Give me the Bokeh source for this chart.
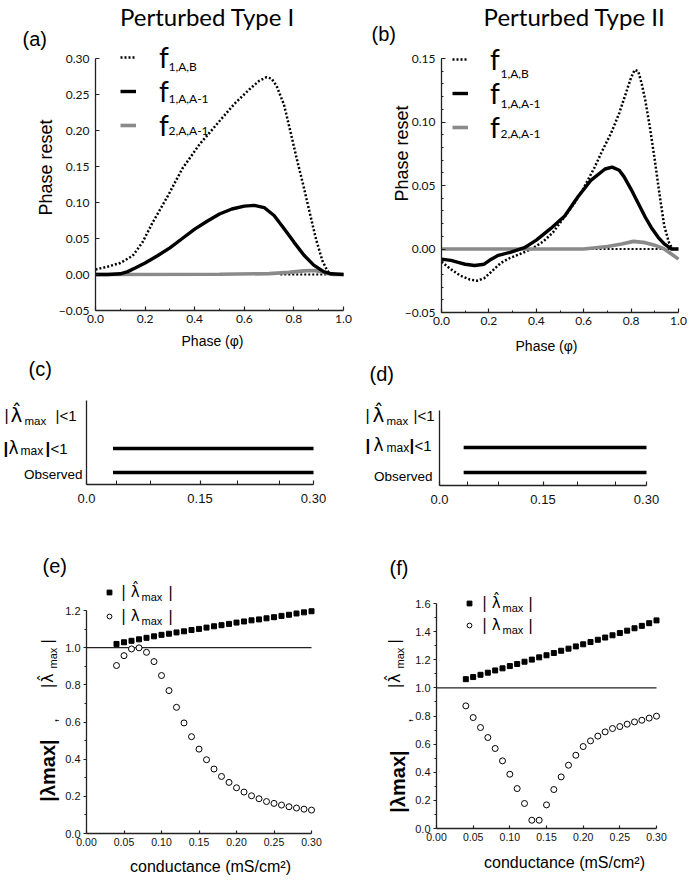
import math
from bokeh.plotting import figure
from bokeh.models import (Label, Legend, LegendItem, FixedTicker, Range1d,
                          NumeralTickFormatter, LinearAxis)
from bokeh.layouts import column, row
from bokeh.embed import file_html
from bokeh.resources import INLINE

# ---------------------------------------------------------------- data ----
# (a) Perturbed Type I : phase resetting curves
A_F1AB_X = [0.00, 0.05, 0.10, 0.15, 0.19, 0.23, 0.29, 0.35, 0.42, 0.49, 0.56,
            0.62, 0.66, 0.69, 0.71, 0.73, 0.76, 0.785, 0.81, 0.84, 0.865, 0.89,
            0.915, 0.935, 0.95, 1.00]
A_F1AB_Y = [0.007, 0.011, 0.016, 0.026, 0.045, 0.072, 0.108, 0.147, 0.181, 0.209,
            0.237, 0.257, 0.269, 0.274, 0.272, 0.262, 0.236, 0.200, 0.163, 0.121,
            0.084, 0.048, 0.019, 0.005, 0.000, 0.000]
A_F1AA_X = [0.00, 0.05, 0.10, 0.13, 0.16, 0.20, 0.25, 0.30, 0.35, 0.40, 0.45, 0.50,
            0.55, 0.60, 0.64, 0.68, 0.72, 0.76, 0.80, 0.84, 0.88, 0.92, 0.95, 1.00]
A_F1AA_Y = [0.000, 0.000, 0.001, 0.004, 0.009, 0.016, 0.026, 0.037, 0.050, 0.063,
            0.074, 0.084, 0.091, 0.095, 0.096, 0.093, 0.082, 0.064, 0.045, 0.027,
            0.013, 0.004, 0.001, 0.000]
A_F2AA_X = [0.00, 0.50, 0.70, 0.78, 0.84, 0.88, 0.91, 0.94, 0.96, 1.00]
A_F2AA_Y = [0.000, 0.0003, 0.0012, 0.003, 0.005, 0.0055, 0.004, 0.001, 0.000, 0.000]
A_ZERO_X = [0.745, 0.93]
A_ZERO_Y = [0.0, 0.0]

# (b) Perturbed Type II : phase resetting curves
B_F1AB_X = [0.00, 0.04, 0.08, 0.12, 0.15, 0.18, 0.21, 0.25, 0.29, 0.33, 0.38, 0.43,
            0.47, 0.51, 0.56, 0.60, 0.645, 0.68, 0.715, 0.75, 0.775, 0.80, 0.815,
            0.83, 0.845, 0.86, 0.88, 0.90, 0.92, 0.94, 0.96, 0.975, 1.00]
B_F1AB_Y = [-0.010, -0.016, -0.021, -0.024, -0.025, -0.023, -0.018, -0.011, -0.007,
            -0.004, 0.000, 0.006, 0.013, 0.023, 0.036, 0.048, 0.064, 0.078, 0.091,
            0.107, 0.121, 0.135, 0.141, 0.140, 0.130, 0.117, 0.095, 0.070, 0.043,
            0.018, 0.005, 0.000, 0.000]
B_F1AA_X = [0.00, 0.04, 0.07, 0.10, 0.14, 0.18, 0.21, 0.24, 0.29, 0.35, 0.40, 0.46,
            0.52, 0.575, 0.63, 0.69, 0.72, 0.75, 0.77, 0.80, 0.83, 0.86, 0.885,
            0.915, 0.94, 0.97, 1.00]
B_F1AA_Y = [-0.008, -0.009, -0.0105, -0.012, -0.013, -0.012, -0.008, -0.005, -0.0026,
            0.001, 0.007, 0.016, 0.026, 0.041, 0.054, 0.063, 0.0645, 0.062, 0.057,
            0.047, 0.036, 0.025, 0.017, 0.009, 0.004, 0.000, 0.000]
B_F2AA_X = [0.00, 0.60, 0.70, 0.76, 0.81, 0.86, 0.90, 0.94, 0.97, 1.00]
B_F2AA_Y = [0.000, 0.000, 0.002, 0.004, 0.006, 0.005, 0.003, 0.000, -0.004, -0.008]
B_ZERO_X = [0.38, 0.96]
B_ZERO_Y = [0.0, 0.0]

# (c), (d) conductance intervals : row 1 = |lambda_max|<1, row 0 = Observed
C_ROW = [1, 0]
C_START = [0.035, 0.035]
C_END = [0.30, 0.30]
D_ROW = [1, 0]
D_START = [0.035, 0.035]
D_END = [0.30, 0.30]

# (e), (f) eigenvalue magnitudes vs conductance
G = [0.04, 0.05, 0.06, 0.07, 0.08, 0.09, 0.10, 0.11, 0.12, 0.13, 0.14, 0.15, 0.16,
     0.17, 0.18, 0.19, 0.20, 0.21, 0.22, 0.23, 0.24, 0.25, 0.26, 0.27, 0.28, 0.29, 0.30]
E_HAT = [1.020, 1.029, 1.037, 1.045, 1.053, 1.061, 1.069, 1.075, 1.082, 1.088, 1.095,
         1.101, 1.108, 1.115, 1.121, 1.128, 1.135, 1.141, 1.147, 1.152, 1.158, 1.164,
         1.171, 1.177, 1.184, 1.190, 1.196]
E_LAM = [0.904, 0.957, 0.993, 0.999, 0.975, 0.925, 0.850, 0.769, 0.679, 0.595, 0.521,
         0.454, 0.397, 0.347, 0.307, 0.275, 0.246, 0.223, 0.203, 0.187, 0.172, 0.162,
         0.153, 0.144, 0.137, 0.131, 0.126]
F_HAT = [1.062, 1.077, 1.093, 1.108, 1.124, 1.139, 1.155, 1.170, 1.186, 1.201, 1.217,
         1.232, 1.248, 1.264, 1.279, 1.295, 1.310, 1.326, 1.342, 1.358, 1.374, 1.390,
         1.407, 1.424, 1.441, 1.460, 1.480]
F_LAM = [0.872, 0.789, 0.718, 0.647, 0.569, 0.481, 0.386, 0.284, 0.178, 0.059, 0.059,
         0.168, 0.277, 0.367, 0.450, 0.521, 0.583, 0.623, 0.657, 0.687, 0.711, 0.725,
         0.742, 0.758, 0.770, 0.785, 0.799]
UNITY_X = [0.0, 0.30]
UNITY_Y = [1.0, 1.0]

# ------------------------------------------------------------- helpers ----
SANS = "Liberation Sans"
HUM = "Lato"
GREEK = "DejaVu Sans"
AX = "#222222"
GRAY = "#8a8a8a"
HAT = "\u03bb\u0302"

COL_X = (0, 356)
COL_W = (356, 332)
ROW_Y = (0, 355, 520)
ROW_H = (355, 165, 360)


def mkfig(ox, oy, w, h, xmap, ymap):
    """Whole canvas is the plot frame; xmap/ymap pin two data values to pixels."""
    (px0, v0), (px1, v1) = xmap
    kx = (px1 - px0) / (v1 - v0)
    xs = v0 - (px0 - ox) / kx
    (py0, u0), (py1, u1) = ymap
    ky = (py0 - py1) / (u1 - u0)
    ys = u0 - (oy + h - py0) / ky
    p = figure(width=w, height=h, x_range=Range1d(xs, xs + w / kx),
               y_range=Range1d(ys, ys + h / ky), x_axis_location=None,
               y_axis_location=None, output_backend="svg", toolbar_location=None,
               min_border_left=0, min_border_right=0, min_border_top=0,
               min_border_bottom=0)
    p.outline_line_color = None
    p.grid.visible = False
    return p, (ox, oy, h)


def txt(p, g, X, Y, s, size, font=SANS, align="left", baseline="middle",
        angle=0.0, style="normal"):
    ox, oy, h = g
    p.add_layout(Label(x=X - ox, y=oy + h - Y, x_units="screen", y_units="screen",
                       text=s, text_font=font, text_font_size=f"{size}px",
                       text_align=align, text_baseline=baseline, angle=angle,
                       text_font_style=style, text_color="black"))


def axis(p, side, fixed, bounds, ticker, fmt, font, size, tin, tout, min_in, min_out,
         standoff, overrides=None):
    ax = LinearAxis(fixed_location=fixed, bounds=bounds, ticker=ticker)
    if fmt is not None:
        ax.formatter = NumeralTickFormatter(format=fmt)
    if overrides:
        ax.major_label_overrides = overrides
    ax.axis_line_color = AX
    ax.axis_line_width = 1.3
    ax.major_tick_line_color = AX
    ax.major_tick_line_width = 1.2
    ax.major_tick_in = tin
    ax.major_tick_out = tout
    ax.minor_tick_line_color = AX
    ax.minor_tick_line_width = 1.0
    ax.minor_tick_in = min_in
    ax.minor_tick_out = min_out
    ax.major_label_text_font = font
    ax.major_label_text_font_size = f"{size}px"
    ax.major_label_text_color = "#111111"
    ax.major_label_standoff = standoff
    p.add_layout(ax, side)
    return ax


SUBS = ["1,A,B", "1,A,A-1", "2,A,A-1"]


def prc_panel(col, xmap, ymap, ylim, yticks, yminor, data, leg, title, title_x,
              tag, tag_xy, ylab_xy, xlab_xy, ystand):
    ox, w = COL_X[col], COL_W[col]
    p, g = mkfig(ox, ROW_Y[0], w, ROW_H[0], xmap, ymap)
    (x1, y1), (x2, y2), (x3, y3), (zx, zy) = data
    rd = p.line(x1, y1, line_color="black", line_width=2.5, line_dash="2 2")
    p.line(zx, zy, line_color="black", line_width=2.0, line_dash="2 2")
    rg = p.line(x3, y3, line_color=GRAY, line_width=3.6)
    rb = p.line(x2, y2, line_color="black", line_width=3.4)
    axis(p, "below", ylim[0], (0, 1),
         FixedTicker(ticks=[0.0, 0.2, 0.4, 0.6, 0.8, 1.0],
                     minor_ticks=[0.1, 0.3, 0.5, 0.7, 0.9]),
         "0.0", HUM, 12, 4, 0, 2, 0, 4)
    axis(p, "left", 0.0, ylim, FixedTicker(ticks=yticks, minor_ticks=yminor),
         "0.00", HUM, 12, 4, 0, 2, 0, ystand, {-0.05: "\u22120.05"})
    gx, rows, fx, subx = leg
    rh = rows[1] - rows[0]
    lg = Legend(items=[LegendItem(label="f", renderers=[rd]),
                       LegendItem(label="f", renderers=[rb]),
                       LegendItem(label="f", renderers=[rg])],
                location=(gx - ox, ROW_Y[0] + ROW_H[0] - (rows[2] + rh / 2)),
                glyph_width=16, glyph_height=rh, label_height=rh, spacing=0,
                padding=0, margin=0, label_standoff=fx - gx - 16,
                border_line_color=None, background_fill_alpha=0,
                label_text_font=HUM, label_text_font_size="28px",
                label_text_color="black")
    p.add_layout(lg)
    for ry, s in zip(rows, SUBS):
        txt(p, g, subx, ry + 4, s, 12, HUM)
    txt(p, g, title_x, 16, title, 24, HUM, align="center")
    txt(p, g, tag_xy[0], tag_xy[1], tag, 20, SANS)
    txt(p, g, ylab_xy[0], ylab_xy[1], "Phase reset", 18, SANS, align="center",
        angle=math.pi / 2)
    txt(p, g, xlab_xy[0], xlab_xy[1], "Phase (\u03c6)", 14, SANS, align="center")
    return p


pa = prc_panel(0, ((95, 0.0), (343, 1.0)), ((310, -0.05), (58, 0.30)), (-0.05, 0.30),
               [-0.05, 0.0, 0.05, 0.10, 0.15, 0.20, 0.25, 0.30], [],
               [(A_F1AB_X, A_F1AB_Y), (A_F1AA_X, A_F1AA_Y), (A_F2AA_X, A_F2AA_Y),
                (A_ZERO_X, A_ZERO_Y)],
               (120, [62, 94, 126], 159, 168),
               "Perturbed Type I", 207, "(a)", (22, 38), (45, 167), (212, 340), 6)

pb = prc_panel(1, ((441, 0.0), (678, 1.0)), ((312, -0.05), (58, 0.15)), (-0.05, 0.15),
               [-0.05, 0.0, 0.05, 0.10, 0.15],
               [round(-0.05 + 0.01 * i, 2) for i in range(21)],
               [(B_F1AB_X, B_F1AB_Y), (B_F1AA_X, B_F1AA_Y), (B_F2AA_X, B_F2AA_Y),
                (B_ZERO_X, B_ZERO_Y)],
               (452, [69, 99, 129], 490, 500),
               "Perturbed Type II", 574, "(b)", (371, 33), (401, 153), (546, 345), 6)


def interval_panel(col, xmap, ymap, ylim, rows, starts, ends, tag, tag_xy, lab):
    ox, w = COL_X[col], COL_W[col]
    p, g = mkfig(ox, ROW_Y[1], w, ROW_H[1], xmap, ymap)
    p.segment(x0=starts, y0=rows, x1=ends, y1=rows, line_color="black",
              line_width=3.5)
    axis(p, "below", ylim[0], (0, 0.30),
         FixedTicker(ticks=[0.0, 0.15, 0.30], minor_ticks=[0.04, 0.085, 0.20, 0.255]),
         "0.00", SANS, 13, 4, 0, 4, 0, 9, {0.0: "0.0"})
    axis(p, "left", 0.0, ylim, FixedTicker(ticks=[]), None, SANS, 12, 0, 0, 0, 0, 0)
    txt(p, g, tag_xy[0], tag_xy[1], tag, 20, SANS)
    (hy, hx), (ly, lx), (oy_, ox_) = lab
    # |lambda-hat_max| < 1
    txt(p, g, hx[0], hy, "|", 16, SANS)
    txt(p, g, hx[1], hy - 1, HAT, 20, GREEK)
    txt(p, g, hx[2], hy + 5, "max", 11.5, SANS)
    txt(p, g, hx[3], hy, "|<1", 15, SANS)
    # |lambda_max| < 1
    txt(p, g, lx[0], ly, "|", 17, SANS, style="bold")
    txt(p, g, lx[1], ly - 1, "\u03bb", 17, GREEK)
    txt(p, g, lx[2], ly + 2, "max", 12, SANS)
    txt(p, g, lx[3], ly, "|", 17, SANS, style="bold")
    txt(p, g, lx[3] + 5, ly, "<1", 15, SANS)
    txt(p, g, ox_, oy_, "Observed", 13.5, SANS, align="right")
    return p


pc = interval_panel(0, ((86, 0.0), (313, 0.30)), ((472, 0), (448, 1)), (-0.5, 3.0),
                    C_ROW, C_START, C_END, "(c)", (28, 368),
                    ((415, [4, 10, 24, 55]), (448, [3, 8, 20, 45]), (474, 82)))
pd_ = interval_panel(1, ((439, 0.0), (646, 0.30)), ((472, 0), (447, 1)), (-0.52, 2.48),
                     D_ROW, D_START, D_END, "(d)", (369, 373),
                     ((415, [365, 372, 386, 413]), (445, [365, 373, 386, 409]),
                      (476, 432)))


def lam_panel(col, xmap, ymap, ymax, yticks, yminor, hat, lam, tag, tag_xy, leg,
              ylab, xlab_xy):
    ox, w = COL_X[col], COL_W[col]
    p, g = mkfig(ox, ROW_Y[2], w, ROW_H[2], xmap, ymap)
    p.line(UNITY_X, UNITY_Y, line_color=AX, line_width=1.2)
    rh = p.scatter(G, hat, marker="square", size=5, fill_color="black",
                   line_color="black")
    rl = p.scatter(G, lam, marker="circle", size=6, fill_color="white",
                   line_color="black", line_width=1)
    axis(p, "below", 0.0, (0, 0.30),
         FixedTicker(ticks=[0.0, 0.05, 0.10, 0.15, 0.20, 0.25, 0.30]),
         "0.00", SANS, 10.5, 3, 0, 0, 0, 4)
    axis(p, "left", 0.0, (0, ymax), FixedTicker(ticks=yticks, minor_ticks=yminor),
         "0.0", SANS, 11, 0, 3, 0, 2, 3)
    txt(p, g, tag_xy[0], tag_xy[1], tag, 20, SANS)
    gx, r1, r2, lx, mx, bx = leg
    rhh = r2 - r1
    lg = Legend(items=[LegendItem(label="| " + HAT, renderers=[rh]),
                       LegendItem(label="| \u03bb", renderers=[rl])],
                location=(gx - 6 - ox, ROW_Y[2] + ROW_H[2] - (r2 + rhh / 2)),
                glyph_width=12, glyph_height=rhh, label_height=rhh, spacing=0,
                padding=0, margin=0, label_standoff=lx - gx - 6,
                border_line_color=None, background_fill_alpha=0,
                label_text_font=GREEK, label_text_font_size="15px",
                label_text_color="black")
    p.add_layout(lg)
    for ry in (r1, r2):
        txt(p, g, mx, ry + 4, "max", 11, SANS)
        txt(p, g, bx, ry, "|", 16, SANS)
    # composite y-axis title: |lambda_max| , |lambda-hat_max|
    (bx0, by0), (cx, cy), (sx, sy) = ylab
    txt(p, g, bx0, by0, "|\u03bbmax|", 20, SANS, align="center", angle=math.pi / 2,
        style="bold")
    txt(p, g, cx, cy, ",", 16, SANS, align="center", angle=math.pi / 2)
    txt(p, g, sx, sy, "|" + HAT, 16, GREEK, align="left", angle=math.pi / 2)
    txt(p, g, sx + 5, sy - 20, "max", 11, SANS, align="left", angle=math.pi / 2)
    txt(p, g, sx, sy - 45, "|", 16, SANS, align="left", angle=math.pi / 2)
    txt(p, g, xlab_xy[0], xlab_xy[1], "conductance (mS/cm\u00b2)", 16, SANS,
        align="center")
    return p


pe = lam_panel(0, ((86, 0.0), (311, 0.30)), ((833, 0.0), (610, 1.2)), 1.2,
               [0.0, 0.2, 0.4, 0.6, 0.8, 1.0, 1.2],
               [0.1, 0.3, 0.5, 0.7, 0.9, 1.1], E_HAT, E_LAM, "(e)", (42, 565),
               (109, 592, 616, 121, 141, 168),
               ((47, 770), (50, 720), (47, 688)), (210, 866))
pf = lam_panel(1, ((436, 0.0), (656, 0.30)), ((828, 0.0), (603, 1.6)), 1.6,
               [0.0, 0.2, 0.4, 0.6, 0.8, 1.0, 1.2, 1.4, 1.6],
               [0.1, 0.3, 0.5, 0.7, 0.9, 1.1, 1.3, 1.5], F_HAT, F_LAM, "(f)",
               (389, 567), (469, 603, 625, 482, 502, 528),
               ((397, 781), (404, 720), (394, 688)), (564, 862))

layout = column(row(pa, pb), row(pc, pd_), row(pe, pf))
open("out.html", "w").write(file_html(layout, INLINE))
